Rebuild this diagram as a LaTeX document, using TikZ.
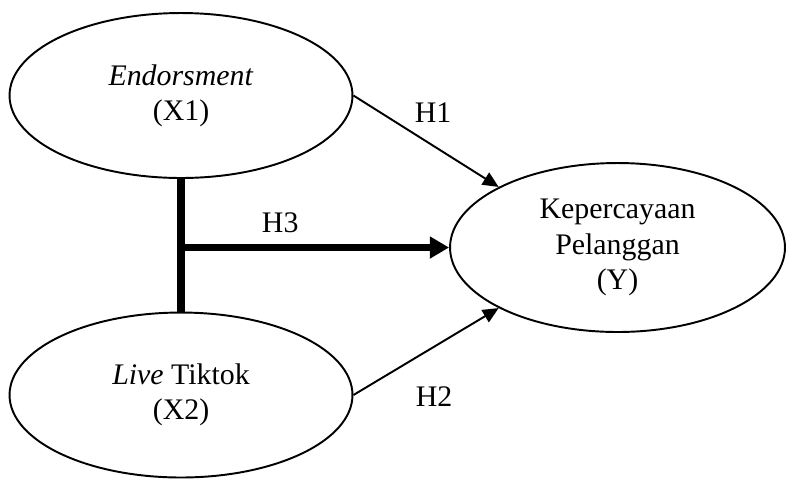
\documentclass[tikz,border=0pt]{standalone}
\usepackage{fontspec}
\setmainfont{Liberation Serif}
\usetikzlibrary{shapes.geometric,arrows.meta}

\tikzset{
  latent/.style={draw,ellipse,line width=1.1pt,align=center,
    minimum width=6.86cm,minimum height=3.3cm},
  path/.style={line width=1.1pt,-{Triangle[length=9pt,width=8pt]}},
  hyp/.style={font=\fontsize{17}{20}\selectfont}
}

\begin{document}
\begin{tikzpicture}[x=0.02cm,y=-0.02cm,font=\fontsize{17}{20}\selectfont]
        \useasboundingbox (0,0) rectangle (786,478);

        \node [latent] (x1) at (181,95.5) {\textit{Endorsment}\\(X1)};
        \node [latent] (x2) at (181,395) {\textit{Live} Tiktok\\(X2)};
        \node [latent,minimum width=6.7cm,minimum height=3.38cm]
          (y) at (617.5,247.5) {Kepercayaan\\Pelanggan\\(Y)};

        % moderating link
        \draw [line width=4pt]
          (x1.south)
          -- (x2.north)
        ;
        \coordinate (join) at (x1.south |- y.west);
        \draw [line width=4pt,-{Triangle[length=11pt,width=12pt]}]
          (join)
          -- (y.west)
            node [pos=0.37,above=3pt,hyp] (h3) {H3}
        ;

        \draw [path]
          (x1.east)
          -- (y.153)
        ;
        \node [hyp] (h1) at (433,113) {H1};
        \draw [path]
          (x2.east)
          -- (y.207)
        ;
        \node [hyp] (h2) at (434,397) {H2};
      \end{tikzpicture}
\end{document}
